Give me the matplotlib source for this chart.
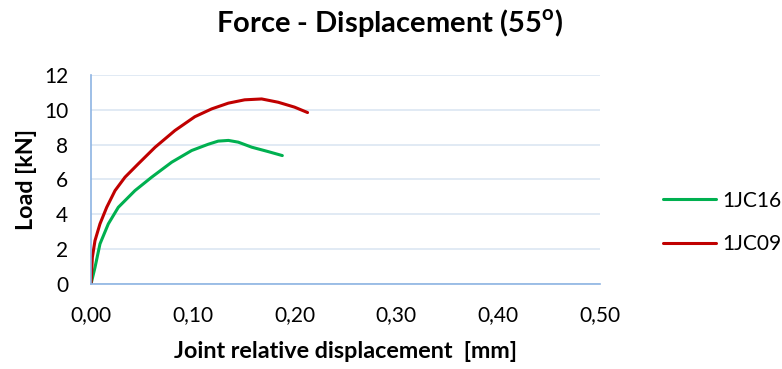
import matplotlib
matplotlib.use("Agg")
import matplotlib.pyplot as plt
from matplotlib.ticker import FuncFormatter

x_1jc16 = [0.0, 0.0039, 0.0088, 0.017, 0.0268, 0.0432, 0.0596, 0.0793, 0.0989, 0.112,
           0.1152, 0.125, 0.135, 0.1447, 0.158, 0.174, 0.188]
y_1jc16 = [0.0, 0.95, 2.3, 3.45, 4.4, 5.36, 6.13, 6.99, 7.66, 7.95,
           8.02, 8.2, 8.24, 8.14, 7.85, 7.6, 7.37]

x_1jc09 = [0.0, 0.0013, 0.0039, 0.0088, 0.0154, 0.0236, 0.0334, 0.0465, 0.063, 0.0825,
           0.102, 0.1186, 0.135, 0.151, 0.1677, 0.184, 0.200, 0.2128]
y_1jc09 = [0.0, 1.53, 2.49, 3.45, 4.4, 5.36, 6.13, 6.9, 7.85, 8.81,
           9.6, 10.05, 10.38, 10.57, 10.62, 10.43, 10.15, 9.84]

x_ticks = [0.0, 0.1, 0.2, 0.3, 0.4, 0.5]
y_ticks = [0, 2, 4, 6, 8, 10, 12]

plt.rcParams['font.family'] = ['Lato', 'DejaVu Sans']

fig = plt.figure(figsize=(7.82, 3.69), dpi=100)
ax = fig.add_axes([0.1164, 0.2304, 0.6506, 0.5666])

ax.plot(x_1jc16, y_1jc16, color='#00B050', lw=2.2, label='1JC16',
        solid_joinstyle='round', solid_capstyle='round')
ax.plot(x_1jc09, y_1jc09, color='#C00000', lw=2.2, label='1JC09',
        solid_joinstyle='round', solid_capstyle='round')

ax.set_xlim(0, 0.5)
ax.set_ylim(0, 12)
ax.set_xticks(x_ticks)
ax.set_yticks(y_ticks)
ax.xaxis.set_major_formatter(FuncFormatter(lambda v, p: f"{v:.2f}".replace('.', ',')))
ax.tick_params(length=0, labelsize=15)
ax.tick_params(axis='y', pad=16.5)
ax.tick_params(axis='x', pad=15)
ax.grid(axis='y', color='#DCE6F2', lw=1.2)
ax.set_axisbelow(True)
for s in ['top', 'right']:
    ax.spines[s].set_visible(False)
for s in ['left', 'bottom']:
    ax.spines[s].set_color('#8EB4E3')
    ax.spines[s].set_linewidth(1.2)

fig.text(0.4974, 0.9377, 'Force - Displacement (55$^{\\mathregular{o}}$)', fontsize=21,
         fontweight='bold', ha='center', va='center')
ax.set_xlabel('Joint relative displacement  [mm]', fontsize=16.8, fontweight='bold', labelpad=12)
ax.set_ylabel('Load [kN]', fontsize=16.8, fontweight='bold', labelpad=5)

ax.legend(loc='center left', bbox_to_anchor=(0.8478, 0.397), bbox_transform=fig.transFigure,
          frameon=False, fontsize=15, borderpad=0, borderaxespad=0,
          handlelength=2.55, handletextpad=0.3, labelspacing=1.15)

fig.savefig('out.png', dpi=100)
